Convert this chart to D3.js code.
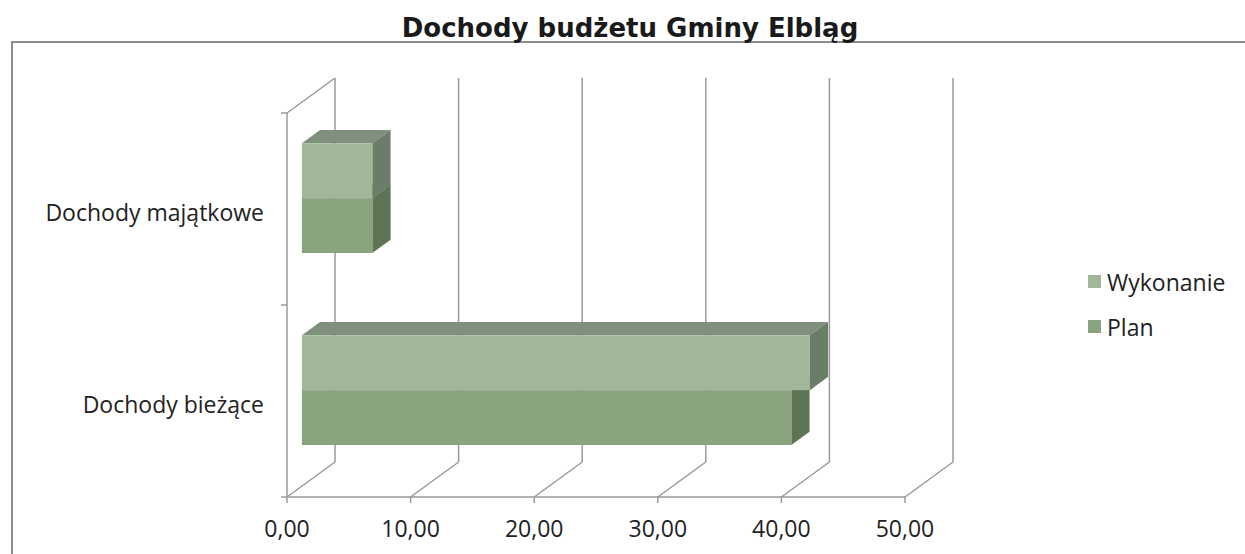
<!DOCTYPE html>
<html><head><meta charset="utf-8">
<script src="https://cdn.jsdelivr.net/npm/d3@7"></script>
<style>body{margin:0;background:#fff}</style>
</head><body>
<svg id="c" width="1245" height="554"></svg>
<script>
const categories = ["Dochody majątkowe", "Dochody bieżące"];
const seriesNames = ["Wykonanie", "Plan"];
const planValues = [5.7, 39.6];
const wykonanieValues = [5.7, 41.1];
const xTicks = [0, 10, 20, 30, 40, 50];
const xTickLabels = ["0,00", "10,00", "20,00", "30,00", "40,00", "50,00"];
const title = "Dochody budżetu Gminy Elbląg";

const svg = d3.select("#c");
const W = 1245, H = 554;
const DX = 48, DY = -35;
const f1 = 0.31, f2 = 0.69;
const x = d3.scaleLinear().domain([0, 50]).range([287, 905]);
const y = d3.scaleBand().domain(categories).range([113, 497]);
const ys = d3.scaleBand().domain(seriesNames).range([0, y.bandwidth()]).paddingOuter(0.75).paddingInner(0);
const grid = "#9a9a9a";

// frame
svg.append("path").attr("d", `M12,${H} L12,42 L${W},42`).attr("fill", "none").attr("stroke", "#8c8c8c").attr("stroke-width", 2);

const g = svg.append("g");
const yTop = y.range()[0], yBot = y.range()[1];
g.selectAll(".bg").data(xTicks).join("line")
  .attr("x1", d => x(d) + DX).attr("x2", d => x(d) + DX)
  .attr("y1", yTop + DY).attr("y2", yBot + DY)
  .attr("stroke", grid).attr("stroke-width", 1.5);
g.selectAll(".fl").data(xTicks).join("line")
  .attr("x1", d => x(d)).attr("x2", d => x(d) + DX)
  .attr("y1", yBot).attr("y2", yBot + DY)
  .attr("stroke", grid).attr("stroke-width", 1.5);
g.append("line").attr("x1", x(0)).attr("y1", yTop).attr("x2", x(0) + DX).attr("y2", yTop + DY)
  .attr("stroke", grid).attr("stroke-width", 1.5);
g.append("line").attr("x1", x(0)).attr("y1", yTop).attr("x2", x(0)).attr("y2", yBot)
  .attr("stroke", grid).attr("stroke-width", 1.5);
const catTicks = [yTop, ...categories.slice(1).map(c => y(c)), yBot];
g.selectAll(".lt").data(catTicks).join("line")
  .attr("x1", x(0) - 6).attr("x2", x(0)).attr("y1", d => d).attr("y2", d => d)
  .attr("stroke", grid).attr("stroke-width", 1.5);
g.append("line").attr("x1", x(0)).attr("y1", yBot).attr("x2", x(50)).attr("y2", yBot)
  .attr("stroke", grid).attr("stroke-width", 1.5);
g.selectAll(".bt").data(xTicks).join("line")
  .attr("x1", d => x(d)).attr("x2", d => x(d)).attr("y1", yBot).attr("y2", yBot + 6)
  .attr("stroke", grid).attr("stroke-width", 1.5);

// bars
const colors = {
  Wykonanie: {front: "#a0b79a", top: "#7f917c", side: "#6b7d68"},
  Plan: {front: "#89a47e", top: "#778c70", side: "#5d7455"}
};
const bars = [];
categories.forEach((c, i) => {
  bars.push({cat: c, s: "Plan", v: planValues[i]});
  bars.push({cat: c, s: "Wykonanie", v: wykonanieValues[i]});
});
const ox1 = f1 * DX, oy1 = f1 * DY, ox2 = f2 * DX, oy2 = f2 * DY;
const bg = svg.append("g");
bars.forEach(b => {
  const y0 = y(b.cat) + ys(b.s), y1 = y0 + ys.bandwidth();
  const xa = x(0), xb = x(b.v);
  const col = colors[b.s];
  const gb = bg.append("g");
  gb.append("polygon").attr("points", [[xa+ox1,y0+oy1],[xb+ox1,y0+oy1],[xb+ox2,y0+oy2],[xa+ox2,y0+oy2]].join(" ")).attr("fill", col.top);
  gb.append("polygon").attr("points", [[xb+ox1,y0+oy1],[xb+ox2,y0+oy2],[xb+ox2,y1+oy2],[xb+ox1,y1+oy1]].join(" ")).attr("fill", col.side);
  gb.append("rect").attr("x", xa+ox1).attr("y", y0+oy1).attr("width", xb-xa).attr("height", y1-y0).attr("fill", col.front);
});

// labels
const lab = svg.append("g").attr("font-family", "Open Sans").attr("font-size", 23).attr("fill", "#222");
lab.selectAll(".cl").data(categories).join("text")
  .attr("x", 264).attr("y", d => y(d) + y.bandwidth() / 2 + 3)
  .attr("text-anchor", "end").attr("dominant-baseline", "central").text(d => d);
lab.selectAll(".xl").data(xTicks).join("text")
  .attr("x", d => x(d)).attr("y", 528).attr("text-anchor", "middle").attr("dominant-baseline", "central")
  .text((d, i) => xTickLabels[i]);

// legend
const lg = svg.append("g");
seriesNames.forEach((s, i) => {
  lg.append("rect").attr("x", 1088).attr("y", 275 + i * 45).attr("width", 13).attr("height", 13).attr("fill", colors[s].front);
  lg.append("text").attr("x", 1107).attr("y", 282 + i * 45).attr("dominant-baseline", "central")
    .attr("font-family", "Open Sans").attr("font-size", 23).attr("fill", "#222").text(s);
});

// title
svg.append("text").attr("x", 630).attr("y", 37).attr("text-anchor", "middle")
  .attr("font-family", "DejaVu Sans").attr("font-weight", "bold").attr("font-size", 26).attr("fill", "#1a1a1a").text(title);
</script>
</body></html>
